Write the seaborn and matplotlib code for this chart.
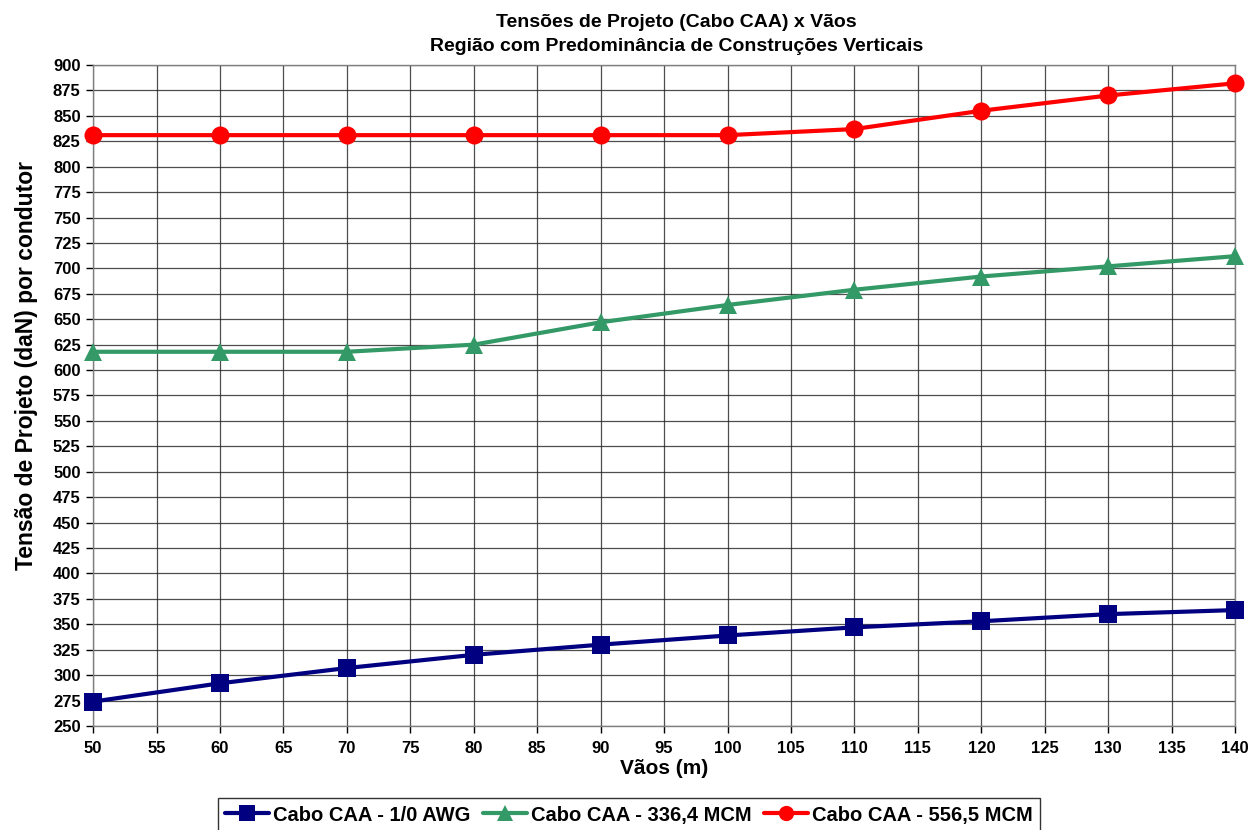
import seaborn as sns
import pandas as pd
import matplotlib.pyplot as plt

sns.set_theme(style="white")
plt.rcParams['font.family'] = ['Liberation Sans', 'DejaVu Sans']
plt.rcParams['font.weight'] = 'bold'
plt.rcParams['text.color'] = 'black'
plt.rcParams['axes.labelcolor'] = 'black'
plt.rcParams['xtick.color'] = 'black'
plt.rcParams['ytick.color'] = 'black'

# values
vaos = [50, 60, 70, 80, 90, 100, 110, 120, 130, 140]
awg_1_0 = [274, 292, 307, 320, 330, 339, 347, 353, 360, 364]
mcm_336 = [618, 618, 618, 625, 647, 664, 679, 692, 702, 712]
mcm_556 = [831, 831, 831, 831, 831, 831, 837, 855, 870, 882]

labels = ['Cabo CAA - 1/0 AWG', 'Cabo CAA - 336,4 MCM', 'Cabo CAA - 556,5 MCM']
colors = ['#000080', '#339966', '#FF0000']
markers = ['s', '^', 'o']

df = pd.DataFrame({'Vao': vaos * 3,
                   'Tensao': awg_1_0 + mcm_336 + mcm_556,
                   'Cabo': [labels[0]] * 10 + [labels[1]] * 10 + [labels[2]] * 10})

fig = plt.figure(figsize=(12.59, 8.3), dpi=100)
ax = fig.add_axes([0.074, 0.1253, 0.907, 0.7964])

sns.lineplot(data=df, x='Vao', y='Tensao', hue='Cabo', style='Cabo',
             palette=colors, markers=markers, dashes=False, markersize=13,
             linewidth=3, markeredgewidth=0, ax=ax, legend=False, zorder=3)
for ln in ax.get_lines():
    ln.set_clip_on(False)

ax.set_xlim(50, 140)
ax.set_ylim(250, 900)
ax.set_xticks(range(50, 141, 5))
ax.set_yticks(range(250, 901, 25))
ax.tick_params(axis='both', labelsize=12, length=5, width=1, direction='out', color='black')
ax.tick_params(axis='x', pad=6)
ax.tick_params(axis='y', pad=4)
ax.tick_params(axis='both', which='major', left=True, bottom=True)
for lab in ax.get_xticklabels() + ax.get_yticklabels():
    lab.set_fontweight('bold')
ax.grid(True, color='#222222', linewidth=0.9, alpha=0.8)
for s in ax.spines.values():
    s.set_color('#808080')
    s.set_linewidth(1)

ax.set_xlabel('Vãos (m)', fontsize=15, fontweight='bold', labelpad=2)
ax.set_ylabel('Tensão de Projeto (daN) por condutor', fontsize=16.5, fontweight='bold')
ax.yaxis.set_label_coords(-0.048, 0.545)
ax.set_title('Tensões de Projeto (Cabo CAA) x Vãos\nRegião com Predominância de Construções Verticais',
             fontsize=14, fontweight='bold', pad=10, linespacing=1.55, color='black')
ax.title.set_x(0.511)

handles = [plt.Line2D([], [], color=c, marker=m, markersize=11, linewidth=3, markeredgewidth=0)
           for c, m in zip(colors, markers)]
leg = fig.legend(handles, labels, loc='lower center', bbox_to_anchor=(0.4995, -0.014), ncol=3,
                 fontsize=14.5, frameon=True, fancybox=False, edgecolor='black',
                 handlelength=2.2, handletextpad=0.2, columnspacing=0.6, borderpad=0.35)
leg.get_frame().set_linewidth(1)
for t in leg.get_texts():
    t.set_fontweight('bold')
    t.set_color('black')

plt.savefig('out.png', dpi=100)
